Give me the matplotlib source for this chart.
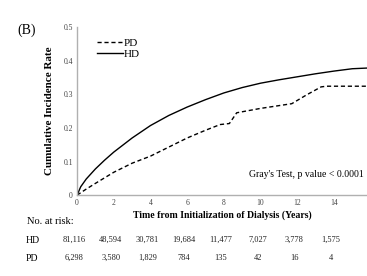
import numpy as np
import matplotlib.pyplot as plt

plt.rcParams['font.family'] = 'Liberation Serif'

# cumulative incidence curves
hd_t = [0, 0.2, 0.5, 1, 1.5, 2, 3, 4, 5, 6, 7, 8, 9, 10, 11, 12, 13, 14, 15, 15.8]
hd_y = [0, 0.025, 0.048, 0.078, 0.104, 0.128, 0.17, 0.207, 0.237, 0.262, 0.284, 0.304, 0.32, 0.333, 0.343, 0.352, 0.361, 0.369, 0.376, 0.378]

pd_t = [0, 0.5, 1, 2, 3, 4, 5, 6, 7, 7.8, 8.3, 8.7, 10, 11.7, 12.5, 13.3, 13.6, 15.8]
pd_y = [0, 0.018, 0.035, 0.068, 0.095, 0.116, 0.143, 0.17, 0.193, 0.21, 0.213, 0.245, 0.258, 0.272, 0.298, 0.322, 0.324, 0.324]

risk_times = [0, 2, 4, 6, 8, 10, 12, 14]
hd_risk = ['81,116', '48,594', '30,781', '19,684', '11,477', '7,027', '3,778', '1,575']
pd_risk = ['6,298', '3,580', '1,829', '784', '135', '42', '16', '4']

fig = plt.figure(figsize=(3.67, 2.76), dpi=100)
ax = fig.add_axes([0.21, 0.293, 0.79, 0.609])

ax.plot(pd_t, pd_y, color='black', lw=1.0, ls=(0, (3, 2)), label='PD')
ax.plot(hd_t, hd_y, color='black', lw=1.0, label='HD')

ax.set_xlim(0, 15.8)
ax.set_ylim(0, 0.5)
ax.set_xticks(range(0, 16, 2))
ax.set_yticks([0, 0.1, 0.2, 0.3, 0.4, 0.5])
ax.set_yticklabels(['0', '0.1', '0.2', '0.3', '0.4', '0.5'])
ax.tick_params(labelsize=5.5, length=0, pad=3, colors='#444444')
for s in ['top', 'right']:
    ax.spines[s].set_visible(False)
for s in ['left', 'bottom']:
    ax.spines[s].set_color('#b0b0b0')
    ax.spines[s].set_linewidth(1.0)

ax.set_xlabel('Time from Initialization of Dialysis (Years)', fontsize=7, fontweight='bold', labelpad=2)
ax.set_ylabel('Cumulative Incidence Rate', fontsize=8, fontweight='bold', labelpad=7)

ax.legend(loc='upper left', bbox_to_anchor=(0.055, 0.96), frameon=False, fontsize=8,
          handlelength=2.3, handletextpad=0.1, labelspacing=0.1, borderaxespad=0)

ax.text(0.99, 0.12, "Gray's Test, p value < 0.0001", transform=ax.transAxes,
        ha='right', va='center', fontsize=7)

fig.text(0.048, 0.891, '(B)', fontsize=10, va='center')

# risk table
fig.text(0.073, 0.196, 'No. at risk:', fontsize=7.5, va='center')
fig.text(0.07, 0.13, 'HD', fontsize=7, va='center')
fig.text(0.07, 0.065, 'PD', fontsize=7, va='center')
for t, h, p in zip(risk_times, hd_risk, pd_risk):
    xf = ax.transData.transform((t, 0))[0] / fig.bbox.width - 0.008
    fig.text(xf, 0.13, h, fontsize=6, ha='center', va='center', color='#222222')
    fig.text(xf, 0.065, p, fontsize=6, ha='center', va='center', color='#222222')

fig.savefig('out.png', dpi=100)
